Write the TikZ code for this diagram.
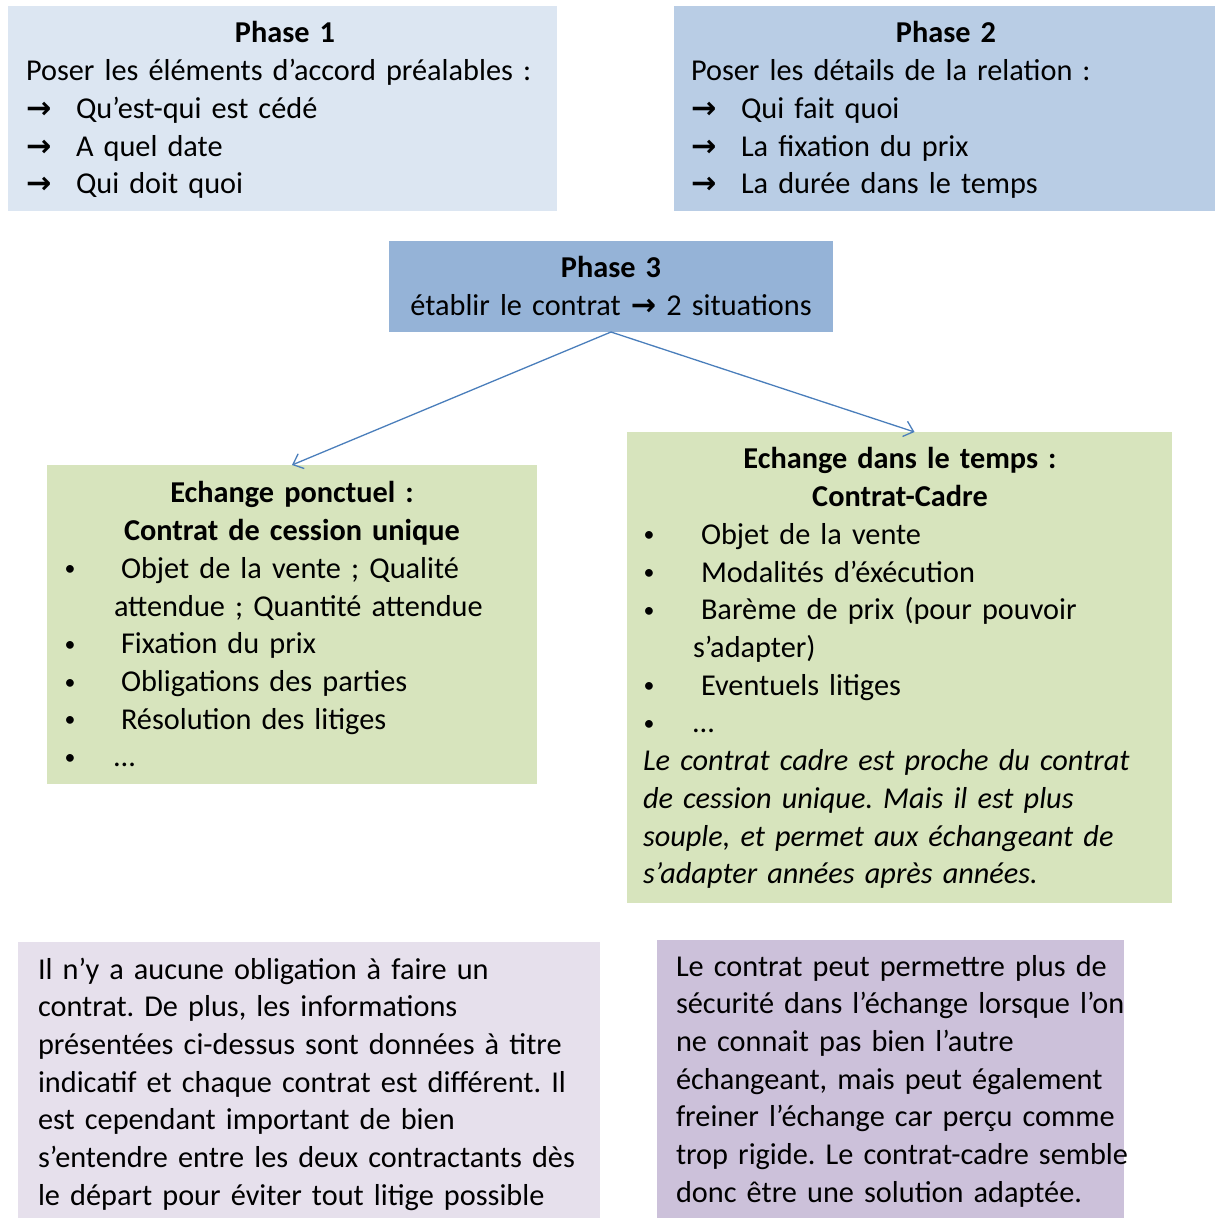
\documentclass[tikz,border=0pt]{standalone}
\usepackage{fontspec}
\usepackage{graphicx}
\setmainfont{Carlito}
\newfontfamily\arrowfont{DejaVu Sans}
\usetikzlibrary{arrows.meta}
\definecolor{cPone}{HTML}{DCE6F2}
\definecolor{cPtwo}{HTML}{B9CDE5}
\definecolor{cPthree}{HTML}{95B3D7}
\definecolor{cGreen}{HTML}{D7E4BD}
\definecolor{cLilacA}{HTML}{E6E0EC}
\definecolor{cLilacB}{HTML}{CCC1DA}
\definecolor{cArrow}{HTML}{4A7EBB}
\setlength{\parindent}{0pt}
\frenchspacing
\newcommand\myarr{\makebox[50bp][l]{{\arrowfont\bfseries →}}}
\newcommand\mybul[1]{\makebox[#1][l]{\hspace*{0.5bp}\raisebox{2.5bp}{\scalebox{0.72}{•}}}}
\tikzset{
  box/.style={rectangle, inner sep=0pt, outer sep=0pt, draw=none},
  txt/.style={inner sep=0pt, outer sep=0pt, anchor=north west, align=left,
    text width=1000bp, font=\fontsize{30.3bp}{37.7bp}\selectfont},
  conn/.style={draw=cArrow, line width=1.3bp,
    -{Straight Barb[length=9bp,width=16bp]}}
}
\begin{document}
\begin{tikzpicture}[x=1bp,y=-1bp]
\useasboundingbox (0,0) rectangle (1215,1218);
% boxes
\node[box, fill=cPone, minimum width=549bp, minimum height=205bp] (p1) at (282.5,108.5) {};
\node[box, fill=cPtwo, minimum width=541bp, minimum height=205bp] (p2) at (944.5,108.5) {};
\node[box, fill=cPthree, minimum width=444bp, minimum height=91bp] (p3) at (611,286.5) {};
\node[box, fill=cGreen, minimum width=490bp, minimum height=319bp] (lg) at (292,624.5) {};
\node[box, fill=cGreen, minimum width=545bp, minimum height=471bp] (rg) at (899.5,667.5) {};
\node[box, fill=cLilacA, minimum width=582bp, minimum height=276bp] (bl) at (309,1080) {};
\node[box, fill=cLilacB, minimum width=467bp, minimum height=278bp] (br) at (890.5,1079) {};
% texts
\node[txt] (p1t) at (26,16.6) {\strut\makebox[518bp][c]{\bfseries Phase 1}\\
Poser les éléments d’accord préalables :\\
\myarr Qu’est-qui est cédé\\
\myarr A quel date\\
\myarr Qui doit quoi};
\node[txt] (p2t) at (691,16.6) {\strut\makebox[510bp][c]{\bfseries Phase 2}\\
Poser les détails de la relation :\\
\myarr Qui fait quoi\\
\myarr La fixation du prix\\
\myarr La durée dans le temps};
\node[txt, anchor=north, align=center] (p3t) at (611,251.6) {\strut\textbf{Phase 3}\\
établir le contrat {\arrowfont\bfseries →} 2 situations};
\node[txt] (lgt) at (64,476.6) {\strut\makebox[456bp][c]{\bfseries Echange ponctuel :}\\
\makebox[456bp][c]{\bfseries Contrat de cession unique}\\
\mybul{57bp}Objet de la vente ; Qualité\\
\hspace*{50bp}attendue ; Quantité attendue\\
\mybul{57bp}Fixation du prix\\
\mybul{57bp}Obligations des parties\\
\mybul{57bp}Résolution des litiges\\
\mybul{50bp}…};
\node[txt] (rgt) at (643,442.6) {\strut\makebox[514bp][c]{\bfseries Echange dans le temps :}\\
\makebox[514bp][c]{\bfseries Contrat-Cadre}\\
\mybul{58bp}Objet de la vente\\
\mybul{58bp}Modalités d’éxécution\\
\mybul{58bp}Barème de prix (pour pouvoir\\
\hspace*{50bp}s’adapter)\\
\mybul{58bp}Eventuels litiges\\
\mybul{50bp}…\\
\textit{Le contrat cadre est proche du contrat}\\
\textit{de cession unique. Mais il est plus}\\
\textit{souple, et permet aux échangeant de}\\
\textit{s’adapter années après années.}};
\node[txt] (blt) at (38,952.6) {\strut Il n’y a aucune obligation à faire un\\
contrat. De plus, les informations\\
présentées ci-dessus sont données à titre\\
indicatif et chaque contrat est différent. Il\\
est cependant important de bien\\
s’entendre entre les deux contractants dès\\
le départ pour éviter tout litige possible};
\node[txt] (brt) at (676,949.6) {\strut Le contrat peut permettre plus de\\
sécurité dans l’échange lorsque l’on\\
ne connait pas bien l’autre\\
échangeant, mais peut également\\
freiner l’échange car perçu comme\\
trop rigide. Le contrat-cadre semble\\
donc être une solution adaptée.};
% connectors
\draw[conn] (p3.south) -- (lg.north);
\draw[conn] (p3.south) -- ([xshift=15bp]rg.north);
\end{tikzpicture}
\end{document}
